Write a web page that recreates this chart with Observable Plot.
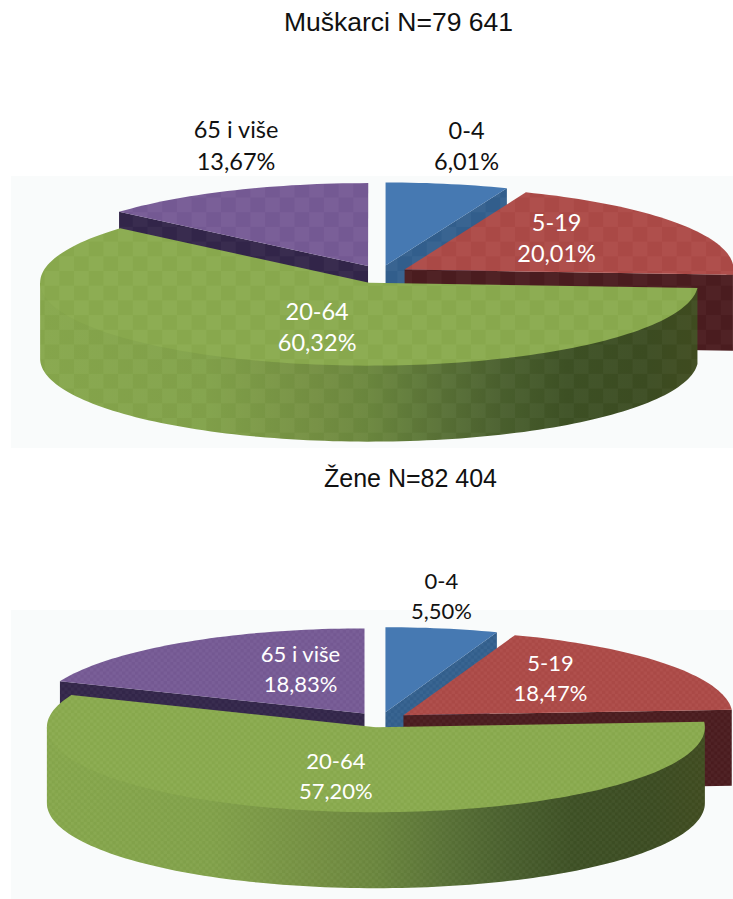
<!DOCTYPE html>
<html>
<head>
<meta charset="utf-8">
<script src="https://cdn.jsdelivr.net/npm/d3@7"></script>
<script src="https://cdn.jsdelivr.net/npm/@observablehq/plot@0.6"></script>
<style>
  html, body { margin: 0; padding: 0; background: #fff; }
  #page { width: 733px; height: 899px; overflow: hidden; }
  .title { font-family: "Liberation Sans", Arial, sans-serif; color: #111; position: relative; white-space: pre; text-align: center; }
  svg { display: block; }
</style>
</head>
<body>
<div id="page"></div>
<script>
// ---- data ----
const ageGroups = ["0-4", "5-19", "20-64", "65 i više"];
const menShares = [6.01, 20.01, 60.32, 13.67];
const womenShares = [5.50, 18.47, 57.20, 18.83];
const menTitle = "Muškarci N=79 641";
const womenTitle = "Žene N=82 404";

// ---- styles ----
const topColors = ["#4679b2", "#ad4a47", "#8aab4e", "#765a95"];
const faceColors = ["#33608e", "#4b1c1f", "#3f4f24", "#33264a"];
const wallStops = [[0, "#87a84c"], [0.25, "#82a24a"], [0.42, "#748f42"], [0.5, "#6b873e"], [0.6, "#5a7337"], [0.7, "#4a602e"], [0.8, "#3e5125"], [0.92, "#3c4c22"], [1, "#404c20"]];

// ---- layout of each panel ----
const menLayout = {
  id: "m", titleSize: 26.5, titleLeft: 32, top: 50, height: 412,
  bg: [11, 733, 176, 448], cx: 379.6, cy: 273.8, a: 329, b: 83, depth: 76, ex: 29, ey: 9,
  tile: 14.7, tileAlpha: 0.028, labelSize: 23.5,
  labelOffsets: [[81, -121], [152, -33], [-52, 43], [-132, -122]],
  labelFill: ["#111", "#fff", "#fff", "#111"], lineHeight: 1.33
};
const womenLayout = {
  id: "w", titleSize: 25, titleLeft: 44, top: 495, height: 404,
  bg: [11, 733, 610, 899], cx: 380, cy: 719.2, a: 329, b: 85, depth: 76, ex: 28.7, ey: 7.6,
  tile: 3.2, tileAlpha: 0.03, labelSize: 22,
  labelOffsets: [[56, -118], [147, -39], [-40, 47], [-64, -46]],
  labelFill: ["#111", "#fff", "#fff", "#fff"], lineHeight: 1.36
};

const rad = d => d * Math.PI / 180;
const pct = v => v.toFixed(2).replace(".", ",") + "%";

function arcPoints(c, L, from, to, dz = 0) {
  const n = Math.max(2, Math.ceil(Math.abs(to - from) / 1.5));
  return d3.range(n + 1).map(i => {
    const t = rad(from + (to - from) * i / n);
    return {x: c.x + L.a * Math.sin(t), y: c.y - L.b * Math.cos(t) + dz};
  });
}

function panel(shares, L) {
  let acc = 0;
  const slices = shares.map((v, i) => {
    const s = acc * 3.6; acc += v; const e = acc * 3.6; const m = rad((s + e) / 2);
    return {i, v, s, e, c: {x: L.cx + L.ex * Math.sin(m), y: L.cy - L.ey * Math.cos(m)}};
  });
  const poly = (pts, fill) => Plot.line(pts, {x: "x", y: "y", fill, stroke: "none", curve: "linear"});
  const face = (sl, ang) => {
    const [edge] = arcPoints(sl.c, L, ang, ang + 1);
    return [sl.c, edge, {x: edge.x, y: edge.y + L.depth}, {x: sl.c.x, y: sl.c.y + L.depth}];
  };
  const wall = sl => {
    const from = Math.max(sl.s, 90), to = Math.min(sl.e, 270);
    if (to <= from) return null;
    // the upper edge runs just inside the top ellipse so no seam shows between wall and top
    const inner = arcPoints(sl.c, {...L, a: L.a * 0.98, b: L.b * 0.95}, from, to);
    const rim = arcPoints(sl.c, L, from, to);
    return [rim[0], ...inner, rim[rim.length - 1], ...arcPoints(sl.c, L, to, from, L.depth)];
  };
  const top = sl => [sl.c, ...arcPoints(sl.c, L, sl.s, sl.e)];

  const defs = () => {
    const d = d3.create("svg:defs");
    const green = slices[2];
    const g = d.append("linearGradient").attr("id", "wall" + L.id).attr("gradientUnits", "userSpaceOnUse")
      .attr("x1", 0).attr("x2", 2 * L.a).attr("y1", 0).attr("y2", 0)
      .attr("gradientTransform", `translate(${green.c.x - L.a},0)`);
    wallStops.forEach(([o, c]) => g.append("stop").attr("offset", o).attr("stop-color", c));
    const t = L.tile;
    const p = d.append("pattern").attr("id", "chk" + L.id).attr("patternUnits", "userSpaceOnUse")
      .attr("width", 2 * t).attr("height", 2 * t);
    [[0, 0], [t, t]].forEach(([x, y]) => p.append("rect").attr("x", x).attr("y", y).attr("width", t).attr("height", t).attr("fill", "#fff").attr("fill-opacity", L.tileAlpha));
    [[t, 0], [0, t]].forEach(([x, y]) => p.append("rect").attr("x", x).attr("y", y).attr("width", t).attr("height", t).attr("fill", "#000").attr("fill-opacity", L.tileAlpha * 0.6));
    return d.node();
  };

  const marks = [defs];
  marks.push(Plot.rect([{}], {x1: () => L.bg[0], x2: () => L.bg[1], y1: () => L.bg[2], y2: () => L.bg[3], fill: "#f9fbfb"}));
  const chk = "url(#chk" + L.id + ")";
  // paint back to front: blue, red, purple, green
  for (const i of [0, 1, 3, 2]) {
    const sl = slices[i];
    if (Math.sin(rad(sl.e)) > 0.001) { marks.push(poly(face(sl, sl.e), faceColors[i])); marks.push(poly(face(sl, sl.e), chk)); }
    if (Math.sin(rad(sl.s)) < -0.001) { marks.push(poly(face(sl, sl.s), faceColors[i])); marks.push(poly(face(sl, sl.s), chk)); }
    const w = wall(sl);
    if (w) {
      marks.push(poly(w, i === 2 ? "url(#wall" + L.id + ")" : faceColors[i]));
      marks.push(poly(w, chk));
    }
    marks.push(poly(top(sl), topColors[i]));
    if (i !== 0) marks.push(poly(top(sl), chk));
  }
  const labels = slices.map(sl => ({
    text: ageGroups[sl.i] + "\n" + pct(sl.v),
    x: sl.c.x + L.labelOffsets[sl.i][0],
    y: sl.c.y + L.labelOffsets[sl.i][1],
    fill: L.labelFill[sl.i]
  }));
  for (const lab of labels) {
    marks.push(Plot.text([lab], {x: "x", y: "y", text: "text", fill: lab.fill, fontSize: L.labelSize, lineHeight: L.lineHeight, fontFamily: "Lato, 'Open Sans', sans-serif"}));
  }
  return Plot.plot({
    width: 733, height: L.height, margin: 0,
    style: {background: "transparent", overflow: "visible"},
    x: {domain: [0, 733], range: [0, 733], axis: null},
    y: {domain: [L.top, L.top + L.height], range: [0, L.height], axis: null},
    marks
  });
}

const page = document.getElementById("page");
function addTitle(text, L, boxHeight, padBottom) {
  const d = document.createElement("div");
  d.className = "title";
  d.textContent = text;
  d.style.fontSize = L.titleSize + "px";
  d.style.height = boxHeight + "px";
  d.style.lineHeight = boxHeight + "px";
  d.style.paddingBottom = padBottom + "px";
  d.style.left = L.titleLeft + "px";
  page.appendChild(d);
}
addTitle(menTitle, menLayout, 44, 6);
page.appendChild(panel(menShares, menLayout));
addTitle(womenTitle, womenLayout, 33, 0);
page.appendChild(panel(womenShares, womenLayout));
</script>
</body>
</html>
